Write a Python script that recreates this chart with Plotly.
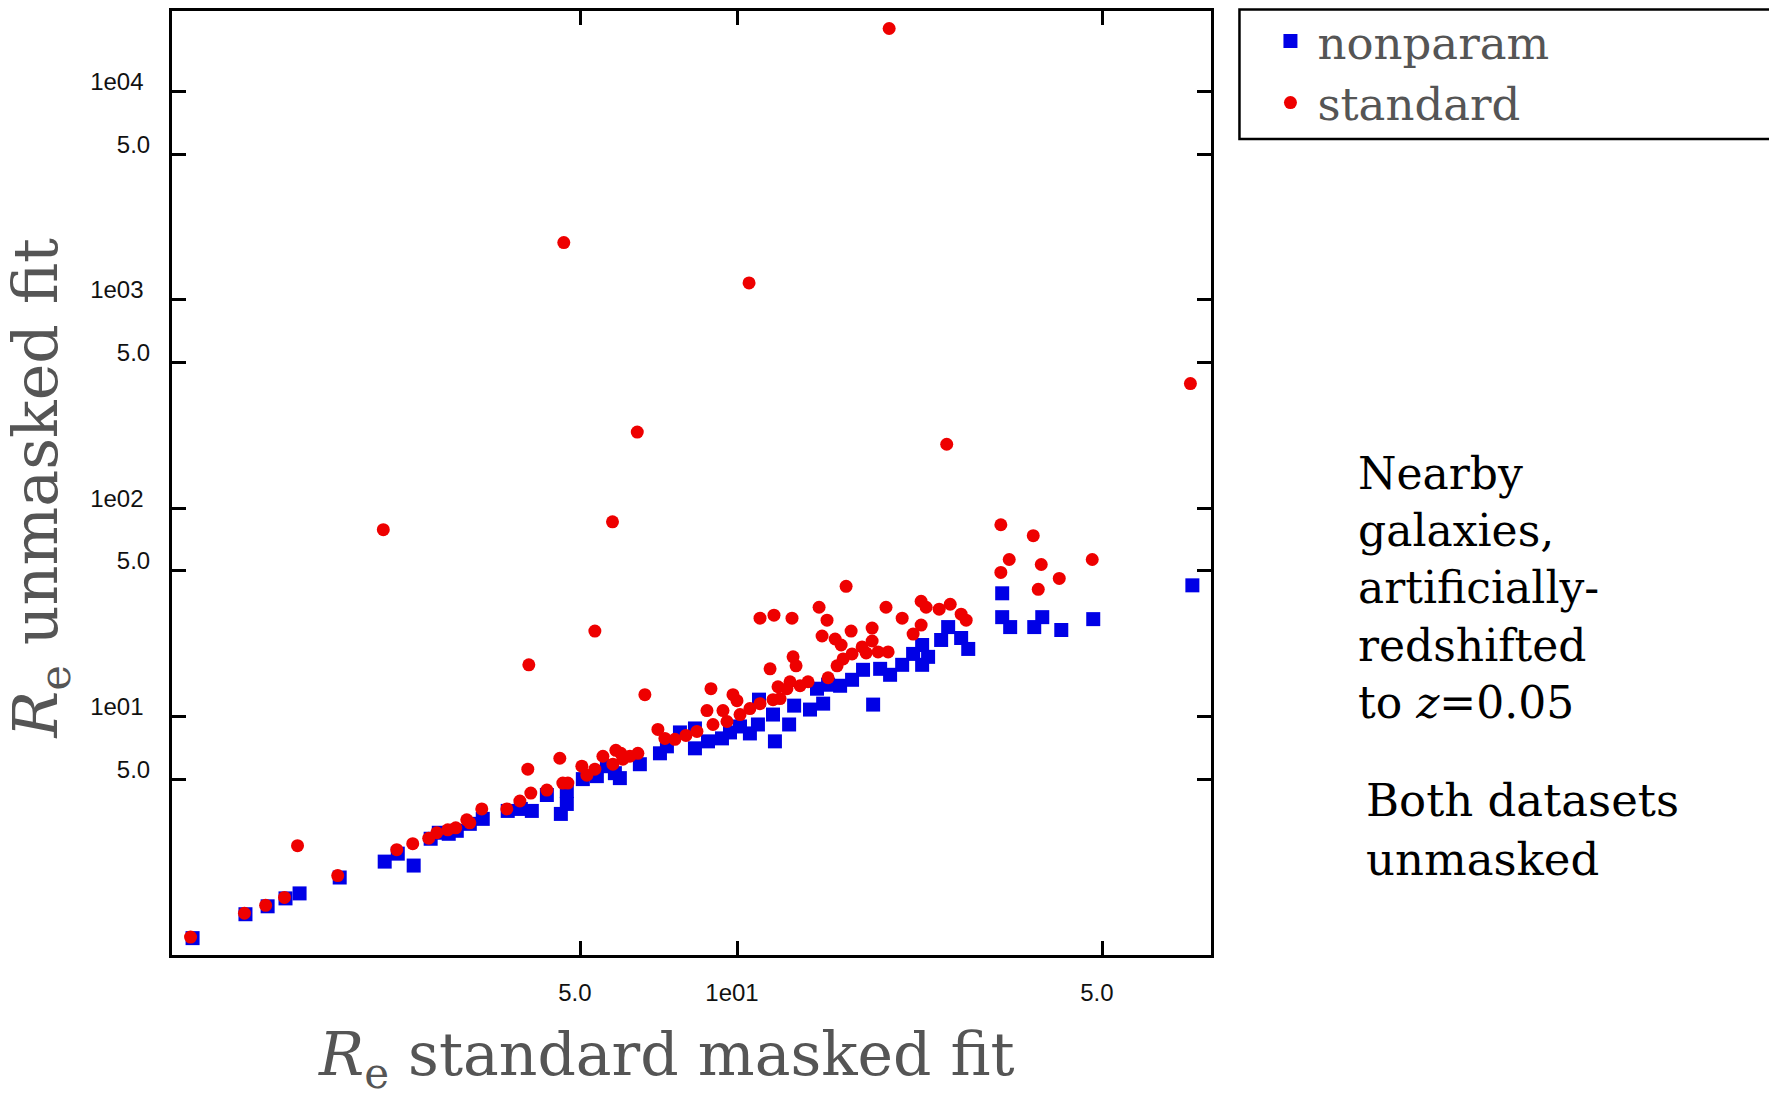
import plotly.graph_objects as go

# ---- data ----
# "standard" fit: x = Re standard masked fit, y = Re unmasked fit
std_x = [0.894, 1.134, 1.245, 1.353, 1.433, 1.711, 2.092, 2.220, 2.382, 2.556,
         2.648, 2.780, 2.880, 3.023, 3.064, 3.230, 3.607, 3.821, 3.957, 3.975,
         4.010, 4.304, 4.557, 4.618, 4.722, 4.638, 5.022, 5.135, 5.319, 5.319,
         5.511, 5.749, 5.759, 5.835, 5.966, 6.018, 6.207, 6.413, 6.430, 6.632,
         7.024, 7.244, 7.571, 7.948, 8.344, 8.721, 8.876, 8.956, 9.359, 9.526,
         9.781, 9.956, 10.09, 10.50, 10.54, 11.02, 11.02, 11.52, 11.67, 11.72,
         11.93, 12.04, 12.41, 12.58, 12.69, 12.75, 12.92, 13.15, 13.62, 14.30,
         14.49, 14.81, 14.88, 15.35, 15.48, 15.76, 15.90, 16.11, 16.47, 16.54,
         17.29, 17.60, 18.07, 18.07, 18.55, 19.21, 19.39, 19.48, 20.63, 21.65,
         22.43, 22.43, 22.93, 24.29, 25.11, 25.50, 26.76, 27.36, 31.88, 31.88,
         33.08, 36.78, 37.60, 38.10, 41.25, 47.71, 73.56]
std_y = [0.873, 1.136, 1.240, 1.354, 2.398, 1.724, 78.9, 2.295, 2.451, 2.603,
         2.766, 2.858, 2.922, 3.190, 3.087, 3.600, 3.600, 3.930, 5.586, 17.71,
         4.292, 4.436, 6.304, 4.790, 4.790, 1887, 5.774, 5.231, 5.586, 25.73,
         6.445, 86.1, 5.902, 6.882, 6.659, 6.235, 6.445, 232.2, 6.659, 12.73,
         8.670, 7.853, 7.768, 8.117, 8.479, 10.68, 13.60, 9.158, 10.68, 9.465,
         12.73, 11.92, 10.22, 1207, 10.92, 11.53, 29.67, 16.94, 12.05, 30.66,
         13.90, 12.19, 13.60, 14.69, 29.67, 19.34, 17.51, 14.05, 14.69, 33.47,
         24.35, 29.02, 15.35, 23.56, 17.51, 22.05, 18.91, 42.17, 25.73, 19.98,
         21.58, 20.20, 23.05, 26.58, 20.42, 33.47, 20.42, 20110, 29.67, 24.89,
         27.48, 35.76, 33.47, 32.75, 202.9, 34.60, 31.00, 29.02, 83.32, 49.18,
         56.73, 73.85, 40.80, 53.70, 46.04, 56.73, 396.6]

# "nonparam" fit
np_x = [0.902, 1.139, 1.256, 1.359, 1.446, 1.726, 2.105, 2.230, 2.392, 2.578,
        2.672, 2.792, 2.893, 3.064, 3.244, 3.622, 3.837, 4.028, 4.304, 4.578,
        4.700, 4.700, 5.044, 5.366, 5.609, 5.810, 5.939, 6.487, 7.088, 7.309,
        7.741, 8.271, 8.271, 8.761, 9.318, 9.653, 10.09, 10.54, 10.92, 10.97,
        11.67, 11.77, 12.53, 12.81, 13.74, 14.17, 14.56, 14.88, 15.69, 16.54,
        17.36, 18.15, 18.72, 19.56, 20.63, 21.65, 22.53, 22.53, 23.13, 24.50,
        25.27, 26.76, 27.61, 32.07, 32.07, 33.22, 36.94, 38.27, 41.62, 47.92,
        74.20]
np_y = [0.863, 1.124, 1.227, 1.339, 1.415, 1.687, 2.011, 2.196, 1.925, 2.589,
        2.766, 2.735, 2.827, 3.053, 3.226, 3.522, 3.600, 3.522, 4.199, 3.407,
        3.804, 4.387, 5.006, 5.173, 5.774, 5.346, 5.061, 5.902, 6.659, 7.192,
        8.387, 7.036, 8.765, 7.599, 7.853, 8.387, 8.959, 8.295, 9.158, 12.05,
        10.22, 7.599, 9.158, 11.28, 10.80, 13.60, 11.53, 14.21, 14.05, 15.01,
        16.76, 11.41, 16.94, 15.86, 17.71, 19.98, 22.05, 17.71, 19.34, 23.31,
        26.88, 23.82, 21.11, 39.05, 30.00, 26.88, 26.88, 30.00, 26.02, 29.35,
        42.64]

x_tickvals = [5, 10, 50]
x_ticktext = ["5.0", "1e01", "5.0"]
y_tickvals = [5, 10, 50, 100, 500, 1000, 5000, 10000]
y_ticktext = ["5.0", "1e01\u00a0", "5.0", "1e02\u00a0", "5.0", "1e03\u00a0", "5.0", "1e04\u00a0"]

SERIF = "DejaVu Serif, Liberation Serif, serif"
SANS = "Liberation Sans, Arial, Helvetica, sans-serif"
GREY = "#555555"

fig = go.Figure()
fig.add_trace(go.Scatter(
    x=np_x, y=np_y, mode="markers", name="nonparam",
    marker=dict(symbol="square", size=14, color="#0000e6", line=dict(width=0)),
))
fig.add_trace(go.Scatter(
    x=std_x, y=std_y, mode="markers", name="standard",
    marker=dict(symbol="circle", size=13, color="#ee0000", line=dict(width=0)),
))

axis_common = dict(
    type="log", showgrid=False, zeroline=False,
    showline=True, linewidth=3, linecolor="black", mirror="allticks",
    ticks="inside", ticklen=14, tickwidth=2.5, tickcolor="black",
    tickfont=dict(family=SANS, size=24, color="#111111"),
)

fig.update_layout(
    width=1769, height=1096,
    margin=dict(l=172, r=558, t=5, b=141),
    paper_bgcolor="white", plot_bgcolor="white",
    xaxis=dict(range=[-0.0842, 1.9061], tickvals=x_tickvals, ticktext=x_ticktext,
               ticklabelstandoff=14, ticklabelshift=-6, **axis_common),
    yaxis=dict(range=[-0.145, 4.3874], tickvals=y_tickvals, ticktext=y_ticktext,
               ticklabelstandoff=14, ticklabelshift=-10, **axis_common),
    showlegend=True,
    legend=dict(
        x=(1263 - 172.5) / 1038.1, y=1.006, xanchor="left", yanchor="top",
        itemwidth=44,
        font=dict(family=SERIF, size=45, color=GREY),
        bgcolor="rgba(0,0,0,0)", borderwidth=0,
    ),
)

# legend frame (extends past the right edge like the original)
fig.add_shape(type="rect", xref="paper", yref="paper",
              x0=1.0274, x1=1.62, y0=0.8645, y1=1.0015,
              line=dict(color="black", width=2.5), fillcolor="rgba(0,0,0,0)")

annotations = [
    dict(text="<i>R</i><sub>e</sub> standard masked fit", x=0.4764, y=-0.110,
         xanchor="center", yanchor="middle",
         font=dict(family=SERIF, size=60, color=GREY)),
    dict(text="<i>R</i><sub>e</sub> unmasked fit", x=-0.1276, y=0.4947,
         xanchor="center", yanchor="middle", textangle=-90,
         font=dict(family=SERIF, size=62, color=GREY)),
    dict(text="Nearby<br>galaxies,<br>artificially-<br>redshifted<br>to <i>z</i>=0.05",
         x=1.1396, y=0.5393, xanchor="left", yanchor="top", align="left",
         font=dict(family=SERIF, size=44, color="black")),
    dict(text="Both datasets<br>unmasked",
         x=1.1473, y=0.1935, xanchor="left", yanchor="top", align="left",
         font=dict(family=SERIF, size=45, color="black")),
]
for a in annotations:
    fig.add_annotation(xref="paper", yref="paper", showarrow=False, **a)

fig.write_html("out.html")
